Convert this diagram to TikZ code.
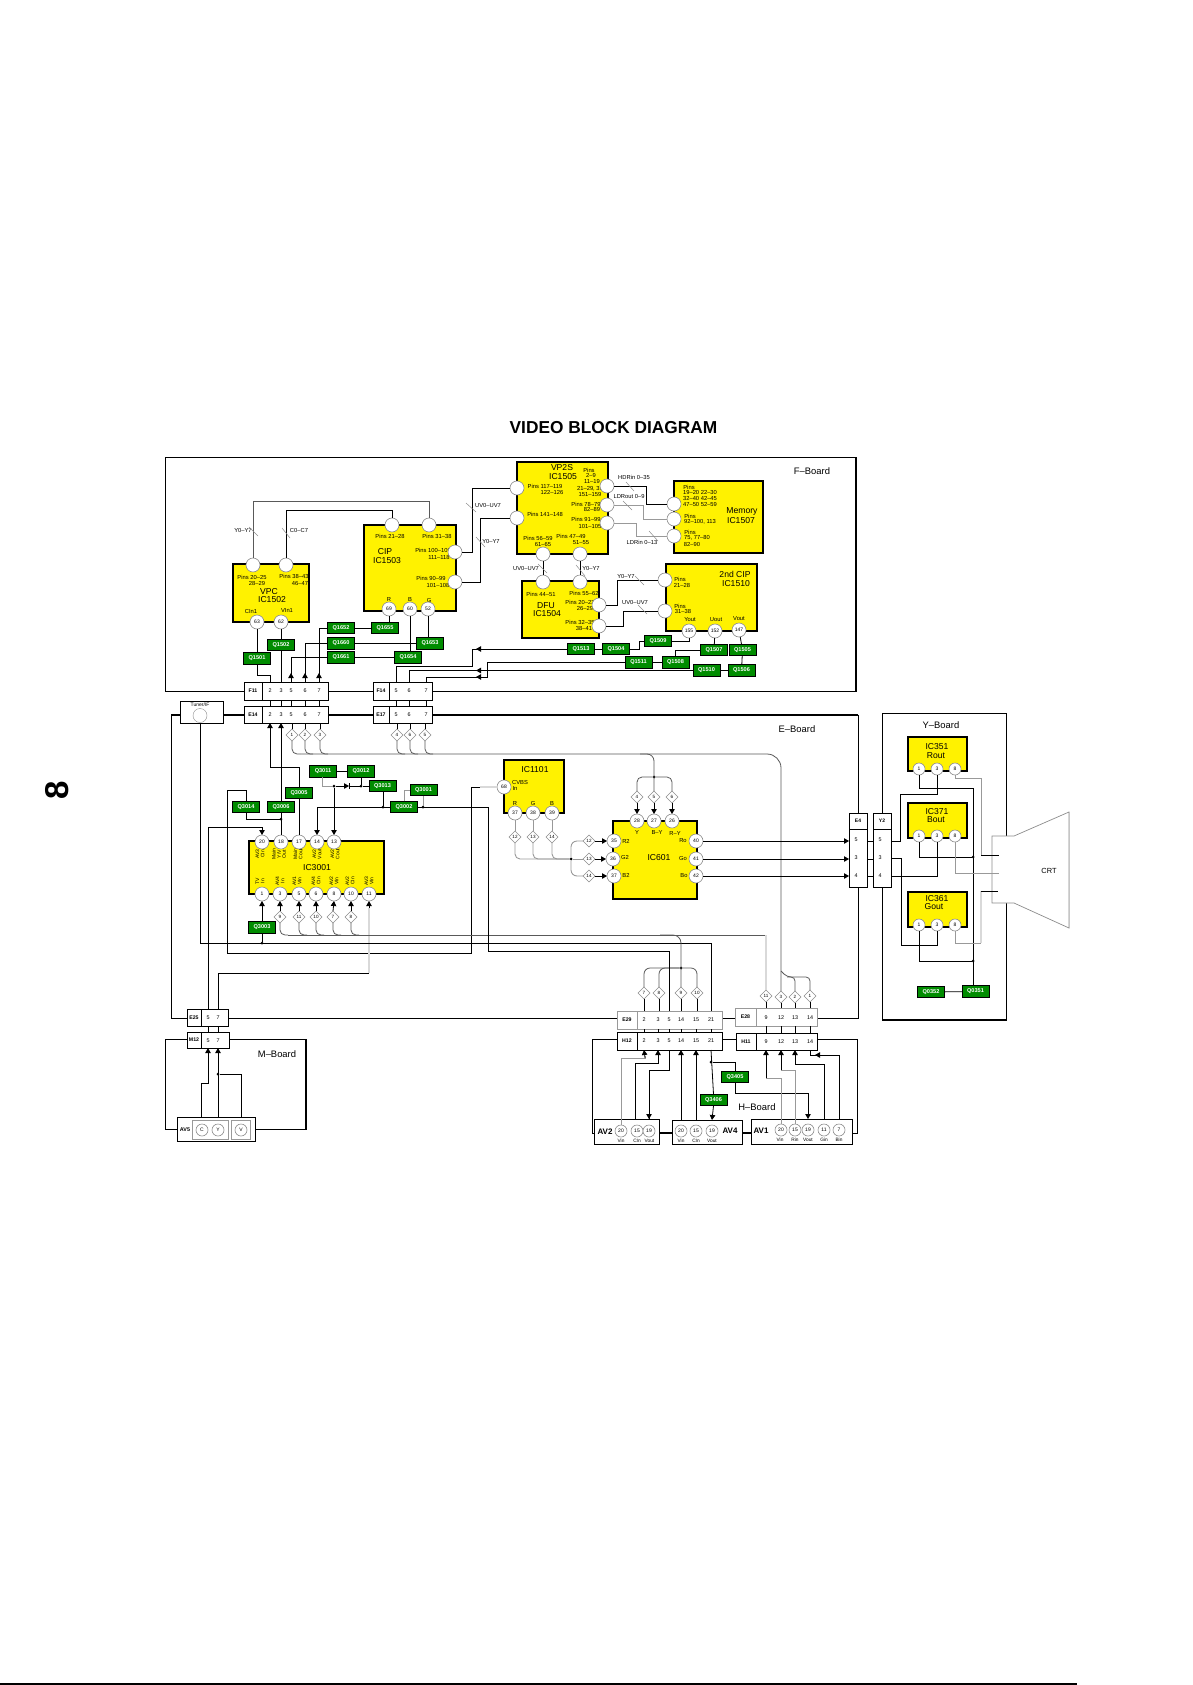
\documentclass[tikz,border=0pt]{standalone}
\usepackage{fontspec}
\setmainfont{Liberation Sans}
\usepackage{tikz}
\usetikzlibrary{arrows.meta,positioning,shapes.geometric,calc}

\begin{document}
\begin{tikzpicture}[>={Triangle[length=5pt,width=5.5pt]},x=1pt,y=-1pt,line join=miter,
 wire/.style={black,line width=0.8pt},
 bus/.style={black!65,line width=0.8pt},
 gwire/.style={gray!80,line width=0.9pt},
 lwire/.style={gray!30,line width=1.3pt},
 tick/.style={gray!90,line width=0.5pt},
 board/.style={black,line width=1pt},
 chip/.style={draw,fill=yellow,line width=1.2pt,inner sep=0,outer sep=0},
 conn/.style={draw,fill=white,line width=0.9pt,inner sep=0,outer sep=0},
 qbox/.style={draw,fill=green!55!black,text=white,line width=0.7pt,minimum width=27pt,minimum height=11.5pt,inner sep=0,outer sep=0,font=\fontsize{5.6}{6}\selectfont\bfseries},
 pin/.style={circle,draw=gray!90,fill=white,line width=0.6pt,minimum size=14pt,inner sep=0,outer sep=0,font=\fontsize{5}{5}\selectfont},
 apin/.style={pin,minimum size=12pt},
 dm/.style={diamond,draw=gray!90,fill=white,line width=0.6pt,aspect=1,minimum size=12pt,inner sep=0,outer sep=0,font=\fontsize{4.6}{5}\selectfont},
 dot/.style={circle,fill=black,minimum size=3pt,inner sep=0,outer sep=0},
 smalltxt/.style={inner sep=0,align=center,font=\fontsize{5.8}{6}\selectfont},
 conntxt/.style={inner sep=0,font=\fontsize{5.4}{6}\selectfont},
 rottxt/.style={inner sep=0,align=center,rotate=90,font=\fontsize{5}{5.2}\selectfont},
 chiptxt/.style={inner sep=0,align=center,font=\fontsize{8.6}{9}\selectfont},
 boardtxt/.style={inner sep=0,font=\fontsize{9.4}{10}\selectfont}]
\useasboundingbox (0,0) rectangle (1192,1685);

\node[inner sep=0,font=\fontsize{17.3}{18}\selectfont\bfseries] (title) at (613.5,428) {VIDEO BLOCK DIAGRAM};
\node[inner sep=0,rotate=90,font=\fontsize{33}{34}\selectfont\bfseries] (pageno) at (57,790) {8};
\draw[black,line width=1.5pt] (0,1684) -- (1077,1684);

% boards
\draw[board] (165,457) rectangle (856,691);
\draw[black,line width=1.6pt] (856,457) -- (856,691);
\draw[board] (171,715) rectangle (858,1018);
\draw[black,line width=1.6pt] (171,715) -- (858,715);
\draw[board] (882,713) rectangle (1006,1020);
\draw[black,line width=1.6pt] (882,1020) -- (1006,1020);

% CRT
\draw[gray!90,fill=white,line width=0.7pt] (1014,836) -- (992,836) -- (992,903) -- (1014,903) -- (1069,928) -- (1069,812) -- cycle;
\draw[gray!45,line width=1pt] (1069,812) -- (1069,928);
\node[inner sep=0,font=\fontsize{7.4}{8}\selectfont] (crt) at (1049,871) {CRT};

% chips
\foreach \nm/\xa/\ya/\xb/\yb in {vpc/233/564/309/622,cip/364/525/456/611,vps/517/462/608/554,
 mem/674/481/763/553,dfu/522/581/599/638,cipb/666/564/757/631,ic3001/249/841/384/894,
 ic1101/504/760/564/813,ic601/613/821/697/899,ic351/908/737/967/771,ic371/908/803/967/838,ic361/908/892/967/927}
 \node[chip,minimum width={\xb-\xa},minimum height={\yb-\ya}] (\nm) at ({(\xa+\xb)/2},{(\ya+\yb)/2}) {};

\foreach \x/\y/\t [count=\i] in {269/592/VPC,272/600/IC1502,385/552/CIP,387/561/IC1503,562/468/VP2S,563/477/IC1505,
 742/511/Memory,741/521/IC1507,546/606/DFU,547/614/IC1504,735/574/2nd CIP,736/584/IC1510,
 317/868/IC3001,535/770/IC1101,659/858/IC601,937/747/IC351,936/756/Rout,937/812/IC371,936/820/Bout,
 937/899/IC361,934/907/Gout}
 \node[chiptxt] (tt\i) at (\x,\y) {\t};

\foreach \x/\y/\t [count=\i] in {252/577/Pins 20–25,257/583/28–29,294/576/Pins 38–43,300/583/46–47,251/611/CIn1,287/611/VIn1,
 390/536/Pins 21–28,437/536/Pins 31–38,433/550/Pins 100–109,439/557/111–118,431/578/Pins 90–99,438/585/101–108,
 389/600/R,410/600/B,429/600/G,
 589/470/Pins,591/476/2–9,592/482/11–19,590/489/{21–29, 31},590/495/151–159,545/486/Pins 117–119,552/493/122–126,
 586/504/Pins 78–79,592/510/82–89,545/514/Pins 141–148,586/519/Pins 91–99,590/526/101–105,
 538/538/Pins 56–59,543/544/61–65,571/536/Pins 47–49,581/543/51–55,
 689/487/Pins,700/493/19–20 22–30,700/499/32–40 42–45,700/505/47–50 52–59,690/516/Pins,700/522/{92–100, 113},
 690/532/Pins,697/538/{75, 77–80},692/544/82–90,
 541/594/Pins 44–51,584/593/Pins 55–62,580/602/Pins 20–23,585/608/26–29,580/622/Pins 32–35,584/628/38–41,
 680/579/Pins,682/585/21–28,680/606/Pins,683/611/31–38,690/620/Yout,716/620/Uout,739/619/Vout,
 520/782/CVBS,515/788/In,515/803/R,533/803/G,552/803/B,
 637/832/Y,657/832/B–Y,675/833/R–Y,626/841/R2,625/857/G2,626/875/B2,683/841/Ro,683/858/Go,684/876/Bo,
 243/531/Y0–Y7,299/531/C0–C7,488/506/UV0–UV7,491/541/Y0–Y7,634/477/HDRin 0–35,629/497/LDRout 0–9,642/542/LDRin 0–13,
 526/568/UV0–UV7,591/568/Y0–Y7,626/576/Y0–Y7,635/602/UV0–UV7}
 \node[smalltxt] (ts\i) at (\x,\y) {\t};

\foreach \x/\y/\t [count=\i] in {260/854/{AV3\\CIn},279/854/{Main\\Y/V\\Out},298/854/{Main\\Cout},317/854/{AV2\\Vout},335/854/{AV2\\Cout},
 260/881/{TV\\In},280/881/{AV4\\In},297/881/{AV1\\VIn},316/881/{AV4\\CIn},334/881/{AV2\\VIn},350/881/{AV2\\CIn},369/881/{AV3\\VIn}}
 \node[rottxt] (tr\i) at (\x,\y) {\t};

\foreach \x/\y/\t [count=\i] in {812/471/F–Board,797/729/E–Board,941/725/Y–Board,277/1054/M–Board,757/1107/H–Board}
 \node[boardtxt] (tb\i) at (\x,\y) {\t};

% connector strips
\foreach \nm/\xa/\ya/\xb/\yb/\dv/\t/\col in {f11/244/682/328/700/262/F11/black,f14/373/682/432/700/389/F14/black,
 e14/244/706/328/723/262/E14/black,e17/373/706/432/723/389/E17/black,e25/187/1009/228/1026/201/E25/black,
 m12/187/1032/229/1048/201/M12/black,e29/617/1011/722/1029/637/E29/gray!80,h12/617/1032/722/1050/637/H12/black,
 e28/735/1008/817/1026/756/E28/gray!80,h11/736/1033/817/1050/756/H11/black}{
 \node[conn,draw=\col,minimum width={\xb-\xa},minimum height={\yb-\ya}] (\nm) at ({(\xa+\xb)/2},{(\ya+\yb)/2}) {};
 \draw[draw=\col,line width=0.8pt] (\dv,\ya) -- (\dv,\yb);
 \node[conntxt,font=\fontsize{5.2}{6}\selectfont\bfseries] (\nm txt) at ({(\xa+\dv)/2},{(\ya+\yb)/2}) {\t};
}
\foreach \cn/\y/\items in {f11/691/{2/270,3/281,5/291,6/305,7/319},f14/691/{5/396,6/409,7/426},
 e14/715/{2/270,3/281,5/291,6/305,7/319},e17/715/{5/396,6/409,7/426},
 e25/1018/{5/208,7/218},m12/1041/{5/208,7/218},
 e29/1020/{2/644,3/658,5/669,14/681,15/696,21/711},h12/1041/{2/644,3/658,5/669,14/681,15/696,21/711},
 e28/1018/{9/766,12/781,13/795,14/810},h11/1042/{9/766,12/781,13/795,14/810}}
 \foreach \t/\x in \items \node[conntxt] (\cn p\t) at (\x,\y) {\t};

\node[conn,minimum width=43,minimum height=22] (tuner) at (201.5,712) {};
\node[circle,draw=gray!90,fill=white,minimum size=14pt,inner sep=0] (tunerc) at (200,715.5) {};
\node[inner sep=0,font=\fontsize{5}{5}\selectfont] (tunertxt) at (200,704.5) {Tuner/IF};

\foreach \nm/\x/\t/\tx in {e4/858/E4/858,y2/882/Y2/882}{
 \node[conn,minimum width=18,minimum height=74] (\nm) at (\x,850) {};
 \draw[line width=0.8pt] (\x-9,829) -- (\x+9,829);
 \node[conntxt,font=\fontsize{5}{6}\selectfont\bfseries] (\nm txt) at (\x,821) {\t};
 \foreach \n/\yy in {5/840,3/858,4/876} \node[conntxt] (\nm p\n) at (\x-2,\yy) {\n};
}

% AV blocks
\foreach \nm/\xa/\ya/\xb/\yb in {av5/177/1117/255/1141,av2/594/1119/659/1144,av4/672/1120/742/1144,av1/751/1119/852/1144}
 \node[conn,minimum width={\xb-\xa},minimum height={\yb-\ya}] (\nm) at ({(\xa+\xb)/2},{(\ya+\yb)/2}) {};
\draw[gray!80,line width=0.7pt] (192,1120) rectangle (228,1139);
\draw[gray!80,line width=0.7pt] (231,1120) rectangle (250,1139);
\foreach \x/\y/\t [count=\i] in {185/1130/AV5,605/1132/AV2,730/1131/AV4,761/1131/AV1}
 \node[inner sep=0,font=\fontsize{\ifnum\i=1 5.4\else 8\fi}{8}\selectfont\bfseries] (avt\i) at (\x,\y) {\t};
\foreach \x/\y/\t [count=\i] in {621/1141/Vin,637/1141/CIn,649.5/1141/Vout,681/1141/Vin,696/1141/CIn,712/1141/Vout,
 780/1140/Vin,795/1140/Rin,808/1140/Vout,824/1140/Gin,839/1140/Bin}
 \node[inner sep=0,font=\fontsize{4.8}{5}\selectfont] (avl\i) at (\x,\y) {\t};

% pins
\foreach \n/\x/\y/\t in {va/253/565/,vb/286/565/,v63/257/622/63,v62/281/622/62,
 ca/392/525/,cb/429/525/,cc/455/552/,cd/455/582/,c69/389/609/69,c60/410/609/60,c52/428/609/52,
 sa/517/488/,sb/517/518/,sc/607/486/,sd/607/505/,se/607/523/,sf/543/554/,sg/580/554/,
 ma/674/504/,mb/674/519/,mc/674/536/,da/543/582/,db/580/582/,dc/599/605/,dd/599/626/,
 ua/665/580/,ub/665/611/,u155/689/631/155,u152/715/631/152,u147/739/630/147,
 p20/262/842/20,p18/281/842/18,p17/299/842/17,p14/317/842/14,p13/334/842/13,
 p1/262/894/1,p3/280/894/3,p5/299/894/5,p6/316/894/6,p8/334/894/8,p10/351/894/10,p11/369/894/11,
 r68/504/787/68,r37/515/813/37,r38/533/813/38,r39/552/813/39,
 i28/637/821/28,i27/654/821/27,i26/672/821/26,i35/614/841/35,i36/613/859/36,i37/614/876/37,
 i40/696/841/40,i41/696/859/41,i42/696/876/42}
 \node[pin] (\n) at (\x,\y) {\t};
\foreach \n/\x/\y/\t in {a1/919/769/1,a3/937/769/3,a8/955/769/8,b1/919/836/1,b3/937/836/3,b8/955/836/8,
 c1/919/925/1,c3/937/925/3,c8/955/925/8,
 avc/202/1130/C,avy/218/1130/Y,avv/241/1130/V,
 g20/621/1131/20,g15/637/1131/15,g19/649/1131/19,h20/681/1131/20,h15/696/1131/15,h19/712/1131/19,
 k20/781/1130/20,k15/795/1130/15,k19/808/1130/19,k11/824/1130/11,k7/839/1130/7}
 \node[apin] (\n) at (\x,\y) {\t};

% diamonds
\foreach \n/\x/\y/\t in {x1/292/735/1,x2/305/735/2,x3/320/735/3,x4/397/735/4,x5/410/735/6,x6/425/735/5,
 n9/280/917/9,n11/299/917/11,n10/316/917/10,n7/333/917/7,n8/351/917/8,
 t4/637/797/4,t5/654/797/5,t6/672/797/6,
 r12/515/837/12,r13/533/837/13,r14/552/837/14,l12/589/841/12,l13/589/859/13,l14/589/876/14,
 w7/644/993/7,w8/659/993/8,w9/681/993/9,w10/697/993/10,z11/766/996/11,z3/781/997/3,z2/795/997/2,z1/810/996/1}
 \node[dm] (\n) at (\x,\y) {\t};

% transistors
\foreach \t/\x/\y in {1501/257/658.5,1502/281/645,1652/341/628,1655/385/628,1660/341/643.5,1661/341/657.5,1653/430/643.5,1654/408/657.5,
 1513/581/649,1504/616/649,1509/658/641,1511/638.5/662.5,1508/675.5/662.5,1507/714/650,1505/742.5/650,1510/706.5/670.5,1506/741.5/670.5,
 3014/246/807,3006/281/807,3005/299/793,3011/323/771.5,3012/361/771.5,3013/382.5/786,3001/423.5/790,3002/404/807,3003/262/927.5,
 3405/735/1077,3406/713.5/1100,0352/931/992,0351/975.5/991.5}
 \node[qbox] (q\t) at (\x,\y) {Q\t};

% junction dots
\foreach \n/\x/\y in {jta/281/819,jtb/262/943,jtc/334/786,jtd/361/786,jte/383/807,jtf/423/807,jtg/571/859,jth/654/777,jti/681/968,
 jtj/973/857,jtk/973/961,jtl/218/1074,jtm/711/1062}
 \node[dot] (\n) at (\x,\y) {};

% F board
\draw[bus] (va.north) |- (429,501) -- (cb.north);
\draw[wire] (vb.north) |- (392,510) -- (ca.north);
\draw[wire] (v63) -- (q1501);
\draw[wire] (v62) -- (q1502);
\draw[wire] (q1501.south) |- (270,675) -- (f11p2 |- f11.north);
\draw[wire] (q1502.south) -- (f11p3 |- f11.north);
\foreach \p/\q in {5/q1661,6/q1660,7/q1652}{
 \draw[wire] (\q.west) -| (f11p\p |- f11.north);
 \draw[wire,->] (f11p\p |- f11.north) -- ++(0,-9);
}
\foreach \x in {2,3,5,6,7} \draw[wire] (f11p\x |- f11.south) -- (e14p\x |- e14.north);
\foreach \x in {5,6,7} \draw[wire] (f14p\x |- f14.south) -- (e17p\x |- e17.north);
\draw[wire] (q1652) -- (q1655);
\draw[wire] (c69) -- (c69 |- q1655.north);
\draw[wire] (q1660) -- (q1653);
\draw[wire] (c52) -- (c52 |- q1653.north);
\draw[wire] (q1661) -- (q1654);
\draw[wire] (c60) -- (c60 |- q1654.north);
\draw[wire] (cc.east) -- (472,552) |- (sa.west);
\draw[wire] (cd.east) -- (480,582) |- (sb.west);
\draw[wire] (sf) -- (da);
\draw[wire] (sg) -- (db);
\draw[wire] (sc.east) -- (646,486) |- (ma.west);
\draw[gwire] (sd.east) -- (643,505) |- (mb.west);
\draw[gwire] (se.east) -- (636,523) |- (mc.west);
\draw[wire] (dc.east) -- (617,605) |- (ua.west);
\draw[wire] (dd.east) -- (623,626) |- (ub.west);
\foreach \xa/\ya/\xb/\yb in {249/527/258/536,282/528/290/538,466/503/476/512,476/537/485/547,626/482/634/491,623/501/632/510,
 649/531/658/541,538/564/547/573,576/565/585/576,635/576/644/585,638/605/647/614}
 \draw[tick] (\xa,\ya) -- (\xb,\yb);
\draw[wire] (q1513.west) -- (472,649) |- (396,666) -- (f14p5 |- f14.north);
\draw[wire,->] (q1513.west) -- (476,649);
\draw[wire] (q1513) -- (q1504);
\draw[wire] (q1504.east) -- (639,649) |- (q1509.west);
\draw[wire] (q1509.east) -| (u155.south);
\draw[wire] (q1508) -- (q1511);
\draw[wire] (q1511.west) -- (487,662.5) |- (426,677) -- (f14p7 |- f14.north);
\draw[wire,->] (487,677) -- (476,677);
\draw[wire] (q1510.west) -- (409,670.5) -- (f14p6 |- f14.north);
\draw[wire,->] (q1510.west) -- (476,670.5);
\draw[wire] (q1506) -- (q1510);
\draw[wire] (q1508.north) |- (q1507.west);
\draw[wire] (u152) -- (q1507);
\draw[wire] (u147) -- (q1505);
\draw[wire] (q1505) -- (q1506);

% E board
\draw[wire] (p17) -- (q3005);
\draw[wire,->] (q3005.north) |- (270,767) -- (e14p2 |- e14.south);
\draw[wire] (p18) -- (q3006);
\draw[wire,->] (q3006.north) -- (e14p3 |- e14.south);
\draw[wire] (q3014.north) |- (227,790) |- (471,953) |- (480,787);
\draw[lwire] (480,787) -- (r68.west);
\draw[wire] (q3014.south) |- (jta);
\draw[wire,->] (e25p5 |- e25.north) |- (262,827) -- (p20.north);
\draw[wire] (e25p7 |- e25.north) |- (369,973);
\draw[lwire] (369,973) -- (369,908);
\draw[wire,->] (369,908) -- (p11.south);
\draw[wire] (tuner.south -| 200,0) |- (e29p21 |- 0,943) -- (e29p21 |- e29.north);
\draw[wire,->] (q3003.north) -- (p1.south);
\draw[wire] (q3003.south) -- (jtb);
\foreach \d/\p in {n9/p3,n11/p5,n10/p6,n7/p8,n8/p10} \draw[wire,->] (\d.north) -- (\p.south);
\foreach \d/\x in {n9/288,n11/307,n10/324,n7/341,n8/359} \draw[bus,rounded corners=5pt] (\d.south) |- (\x,935);
\draw[bus] (288,935) -- (766,935);
\draw[lwire] (766,935) -- (z11.north);
\draw[bus,rounded corners=8pt] (660,935) -| (w9.north);
\draw[bus,rounded corners=6pt] (jti) -| (w7.north);
\draw[bus,rounded corners=6pt] (jti) -| (w8.north);
\draw[bus,rounded corners=6pt] (jti) -| (w10.north);
\foreach \d/\p in {w7/2,w8/3,w9/14,w10/15} \draw[wire] (\d.south) -- (\d.south |- e29.north);
\foreach \d in {z11,z3,z2,z1} \draw[wire] (\d.south) -- (\d.south |- e28.north);
\foreach \x in {2,3,5,14,15,21} \draw[wire] (e29p\x |- e29.south) -- (h12p\x |- h12.north);
\foreach \x in {9,12,13,14} \draw[wire] (e28p\x |- e28.south) -- (h11p\x |- h11.north);
\draw[wire] (e25p5 |- e25.south) -- (m12p5 |- m12.north);
\draw[wire] (e25p7 |- e25.south) -- (m12p7 |- m12.north);
\foreach \d in {x1,x2,x3} \draw[wire] (\d.north) -- (\d.north |- e14.south);
\foreach \d in {x4,x5,x6} \draw[wire] (\d.north) -- (\d.north |- e17.south);
\foreach \d/\x in {x1/300,x2/313,x3/328,x4/405,x5/418,x6/433} \draw[bus,rounded corners=5pt] (\d.south) |- (\x,754);
\draw[bus,rounded corners=14pt] (300,754) -- (781,754) -- (z3.north);
\draw[bus,rounded corners=7pt] (640,754) -| (t5.north);
\draw[bus,rounded corners=5pt] (jth) -| (t4.north);
\draw[bus,rounded corners=5pt] (jth) -| (t6.north);
\draw[bus,rounded corners=4pt] (781,971) -- (787,977) -- (810,977) -- (z1.north);
\draw[bus,rounded corners=4pt] (787,977) -| (z2.north);
\foreach \d/\p in {t4/i28,t5/i27,t6/i26} \draw[wire,->] (\d.south) -- (\p.north);
\foreach \a/\b in {r37/r12,r38/r13,r39/r14} \draw[gwire] (\a) -- (\b);
\foreach \d in {r12,r13,r14} \draw[gwire,rounded corners=5pt] (\d.south) |- (jtg);
\draw[gwire,rounded corners=6pt] (jtg) |- (l12.west);
\draw[gwire] (jtg) -- (l13.west);
\draw[gwire,rounded corners=6pt] (jtg) |- (l14.west);
\foreach \d/\p in {l12/i35,l13/i36,l14/i37} \draw[wire,->] (\d.east) -- (\p.west);
\foreach \p in {i40,i41,i42}{
 \draw[wire,->] (\p.east) -- (\p.east -| e4.west);
 \draw[wire] (\p.east -| e4.east) -- (\p.east -| y2.west);
}
\draw[wire] (q3011) -- (q3012);
\draw[gwire] (322,777) |- (jtc);
\draw[wire,->] (jtc) -- (349,786);
\draw[wire] (349.5,783) -- (349.5,789);
\draw[wire] (349,786) -- (jtd) -- (q3013.west);
\draw[wire] (jtd) -- (jtd |- q3012.south);
\draw[wire,->] (jtc) -- (p13.north);
\draw[wire] (jte) -- (jte |- q3013.south);
\draw[wire,->] (q3002.west) -| (p14.north);
\draw[gwire] (q3002.north) |- (q3001.west);
\draw[gwire] (jtf) -- (jtf |- q3001.south);
\draw[wire] (q3002.east) -- (488,807) |- (e29p5 |- 0,951) -- (e29p5 |- e29.north);

% Y board
\draw[wire] (a1.south) |- (973,788) -- (973,985.75);
\draw[wire] (a3.south) |- (900,794) |- (y2.east |- 0,841);
\draw[wire] (b1.south) |- (jtj);
\draw[wire] (b3.south) |- (y2.east |- 0,876);
\draw[wire] (c1.south) |- (jtk);
\draw[wire] (c3.south) |- (901,945) |- (y2.east |- 0,858);
\draw[gwire] (a8.south) |- (981,778) -- (981,855);
\draw[wire] (981,855) -- (999,855);
\draw[gwire] (b8.south) |- (999,873);
\draw[gwire] (c8.south) |- (981,943);
\draw[lwire] (981,943) -- (981,891);
\draw[wire] (981,891) -- (998,891);
\draw[wire] (q0352) -- (q0351);

% M board
\draw[board] (m12.west |- 0,1039) -- (165,1039) -- (165,1129) -- (av5.west |- 0,1129);
\draw[board] (m12.east |- 0,1039) -- (306,1039) -- (306,1129) -- (av5.east |- 0,1129);
\draw[black,line width=1.6pt] (306,1039) -- (306,1129);
\draw[wire,->] (201,1117) |- (208,1083) -- (m12p5 |- m12.south);
\draw[wire,->] (avy |- av5.north) -- (m12p7 |- m12.south);
\draw[wire] (avv |- av5.north) |- (jtl);

% H board
\draw[board] (h12.west |- 0,1039) -- (592,1039) |- (av2.west |- 0,1133);
\draw[black,line width=1.6pt] (av2.east |- 0,1133) -- (av4.west |- 0,1133);
\draw[black,line width=1.6pt] (av4.east |- 0,1133) -- (av1.west |- 0,1133);
\draw[board] (h12.east |- 0,1039) -- (h11.west |- 0,1039);
\draw[board] (h11.east |- 0,1039) -- (857,1039) |- (av1.east |- 0,1133);
\draw[gwire] (g20.north) |- (645,1058) -- (645,1056);
\draw[wire,->] (645,1058) -- (h12p2 |- h12.south);
\draw[wire,->] (635,1119) |- (h12p3 |- 0,1063) -- (h12p3 |- h12.south);
\draw[wire] (g19 |- av2.north) |- (h12p5 |- 0,1070) -- (h12p5 |- h12.south);
\draw[wire,->] (649,1080) -- (g19 |- av2.north);
\draw[wire,->] (h20 |- av4.north) -- (h12p14 |- h12.south);
\draw[wire,->] (h15 |- av4.north) -- (h12p15 |- h12.south);
\draw[wire] (h12p21 |- h12.south) -- (q3406.north);
\draw[wire,->] (q3406.south) -- (h19 |- av4.north);
\draw[wire] (jtm) -| (q3405.north);
\draw[wire] (q3405.south) |- (808,1093);
\draw[wire,->] (808,1093) -- (k19 |- av1.north);
\draw[gwire] (k20.north) -- (781,1078) -- (766,1078);
\draw[wire,->] (766,1078) -- (h11p9 |- h11.south);
\draw[gwire] (k15.north) -- (795,1070) -- (781,1070);
\draw[wire,->] (781,1070) -- (h11p12 |- h11.south);
\draw[wire] (k11 |- av1.north) |- (795,1064);
\draw[wire,->] (795,1064) -- (h11p13 |- h11.south);
\draw[wire] (k7 |- av1.north) |- (815,1055);
\draw[wire,->] (825,1055) -- (815,1055);
\draw[wire] (815,1055) -| (h11p14 |- h11.south);
\end{tikzpicture}
\end{document}
